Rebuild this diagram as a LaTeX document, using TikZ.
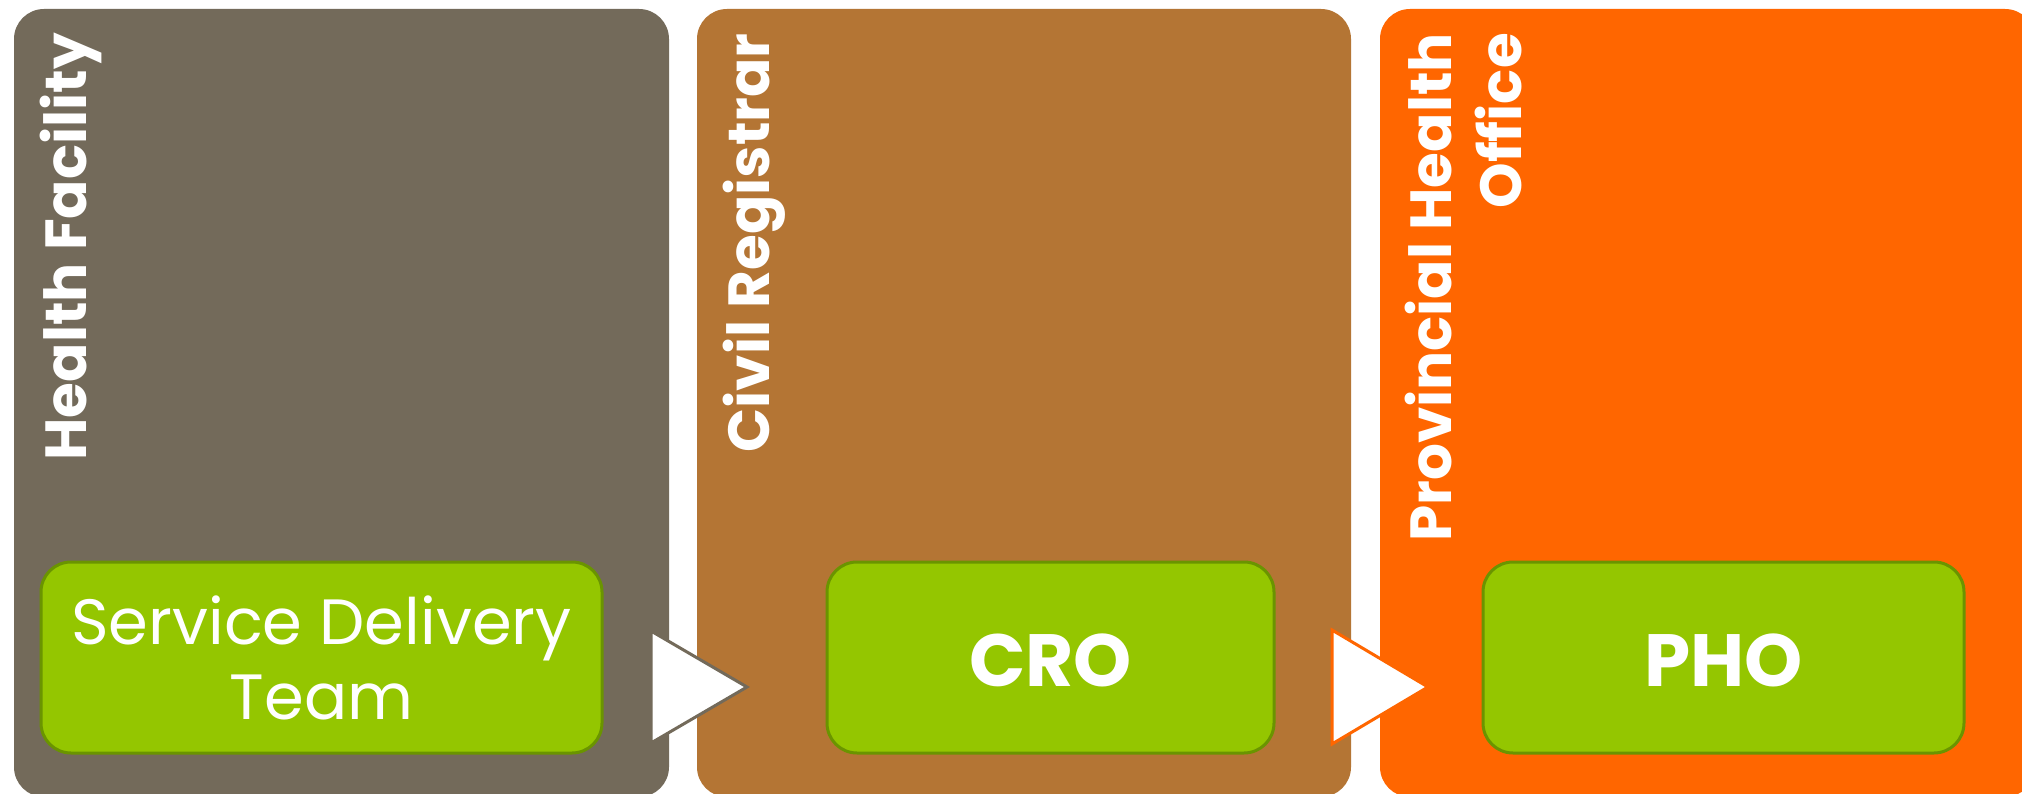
\documentclass[tikz,border=0pt]{standalone}
\usepackage{fontspec}
\setmainfont{Poppins}
\definecolor{colgray}{HTML}{736A5A}
\definecolor{colbrown}{HTML}{B47534}
\definecolor{colorange}{HTML}{FF6600}
\definecolor{boxgreen}{HTML}{94C600}
\definecolor{boxedge}{HTML}{6A9400}
\begin{document}
\begin{tikzpicture}[x=1pt,y=-1pt,
  column/.style={fill=#1, draw=none, rounded corners=30pt},
  greenbox/.style={fill=boxgreen, draw=boxedge, line width=3pt, rounded corners=30pt},
  titletext/.style={rotate=90, anchor=base east, inner sep=0pt, text=white,
     font=\bfseries\fontsize{58}{62}\selectfont},
  boxtext/.style={text=white, align=center, inner sep=0pt},
  flowarrow/.style={fill=white, draw=#1, line width=3pt, line join=miter}]
\useasboundingbox (0,0) rectangle (2022,794);
\fill[white] (0,0) rectangle (2022,794);
% columns
\path[column=colgray]   (14,9)   rectangle (669,797);
\path[column=colbrown]  (697,9)  rectangle (1351,797);
\path[column=colorange] (1380,9) rectangle (2035,797);
% titles
\node[titletext] (hf) at (86,33) {Health Facility};
\node[titletext] (cr) at (769,33) {Civil Registrar};
\node[titletext] (ph1) at (1451,33) {Provincial Health};
\node[titletext] (ph2) at (1521,33) {Office};
% green boxes
\draw[greenbox] (41,562) rectangle (602,753);
\draw[greenbox] (827,562) rectangle (1274,753);
\draw[greenbox] (1483,562) rectangle (1964,753);
\node[boxtext, font=\fontsize{64}{75}\selectfont] (sdt) at (321.5,657.5) {Service Delivery\\Team};
\node[boxtext, font=\bfseries\fontsize{74}{80}\selectfont] (cro) at (1050.5,660) {CRO};
\node[boxtext, font=\bfseries\fontsize{74}{80}\selectfont] (pho) at (1723.5,660) {PHO};
% arrows
\draw[flowarrow=colgray] (651,631) -- (747,687) -- (651,743) -- cycle;
\draw[flowarrow=colorange] (1332,630) -- (1428,687) -- (1332,744) -- cycle;
\end{tikzpicture}
\end{document}
